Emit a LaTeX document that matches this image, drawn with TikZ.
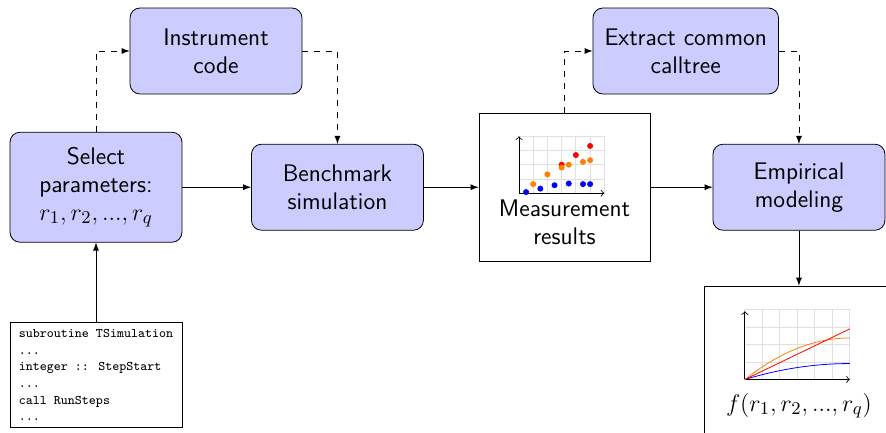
\documentclass[tikz,border=0pt]{standalone}
\usepackage{tikz}

\newcommand{\bigmath}[1]{{\fontsize{13pt}{14.5pt}\selectfont$#1$}}

\tikzset{
  process/.style={draw, rectangle, rounded corners=5pt, fill=blue!20, font=\sffamily\large,
    align=center, minimum width=86pt, minimum height=43pt, inner sep=5pt},
  resultbox/.style={draw, rectangle, minimum width=85.5pt, minimum height=74pt},
  codebox/.style={draw, rectangle, align=left, font=\ttfamily\fontsize{6.6pt}{8.3pt}\selectfont,
    minimum width=86pt, minimum height=52pt},
  flow/.style={-latex},
  dep/.style={-latex, dashed},
  plotgrid/.style={black!12},
}

\begin{document}
\begin{tikzpicture}
  \useasboundingbox (0,0) rectangle (15.57,-7.592);

  % boxes
  \node[process, minimum height=55pt] (sel) at (1.687,-3.29) {Select\\parameters:\\\bigmath{r_1, r_2, ..., r_q}};
  \node[process] (instr) at (3.796,-0.896) {Instrument\\code};
  \node[process] (bench) at (5.93,-3.29) {Benchmark\\simulation};
  \node[resultbox] (meas) at (9.92,-3.29) {};
  \node[process, inner xsep=5.8pt] (extr) at (12.05,-0.896) {Extract common\\calltree};
  \node[process] (emp) at (14.04,-3.29) {Empirical\\modeling};
  \node[codebox] (code) at (1.687,-6.59) {subroutine TSimulation\\...\\integer :: StepStart\\...\\call RunSteps\\...};
  \node[resultbox, minimum width=95pt] (fbox) at (14.04,-6.326) {};

  % measurement plot
  \begin{scope}[shift={(meas.center)}, xshift=-0.8cm, yshift=-0.105cm]
    \draw[plotgrid, step=0.25] (0,0) grid (1.5,1);
    \draw[->] (0,0) -- (1.5,0);
    \draw[->] (0,0) -- (0,1);
    \foreach \x/\y in {0.125/0.02, 0.375/0.08, 0.625/0.14, 0.875/0.17, 1.125/0.16, 1.25/0.16}
      \fill[blue] (\x,\y) circle [radius=1.5pt];
    \foreach \x/\y in {0.75/0.5, 1.0/0.67, 1.25/0.83}
      \fill[red] (\x,\y) circle [radius=1.5pt];
    \foreach \x/\y in {0.25/0.16, 0.5/0.33, 0.75/0.45, 0.875/0.5, 1.125/0.55, 1.25/0.58}
      \fill[orange] (\x,\y) circle [radius=1.5pt];
  \end{scope}
  \node[font=\sffamily\large, align=center] (meastxt) at ([yshift=-0.62cm]meas.center) {Measurement\\results};

  % model plot
  \begin{scope}[shift={(fbox.north)}, xshift=-0.95cm, yshift=-1.65cm]
    \draw[plotgrid, step=0.3075] (0,0) grid (1.845,1.23);
    \draw[->] (0,0) -- (1.845,0);
    \draw[->] (0,0) -- (0,1.2);
    \draw[blue] plot[domain=0:1.845, samples=30] (\x, {0.28*(1-(1-\x/1.845)^2)});
    \draw[orange] plot[domain=0:1.845, samples=30] (\x, {0.73*(1-(1-\x/1.845)^2)});
    \draw[red] (0,0) -- (1.845,0.89);
  \end{scope}
  \node (ftxt) at ([yshift=-2.11cm]fbox.north) {\bigmath{f(r_1, r_2, ..., r_q)}};

  % connectors
  \draw[dep] (sel.north) |- (instr.west);
  \draw[dep] (instr.east) -| (bench.north);
  \draw[dep] (meas.north) |- (extr.west);
  \draw[dep] (extr.east) -| (emp.north);
  \draw[flow] (sel) -- (bench);
  \draw[flow] (bench) -- (meas);
  \draw[flow] (meas) -- (emp);
  \draw[flow] (emp) -- (fbox);
  \draw[flow] (code) -- (sel);
\end{tikzpicture}
\end{document}
